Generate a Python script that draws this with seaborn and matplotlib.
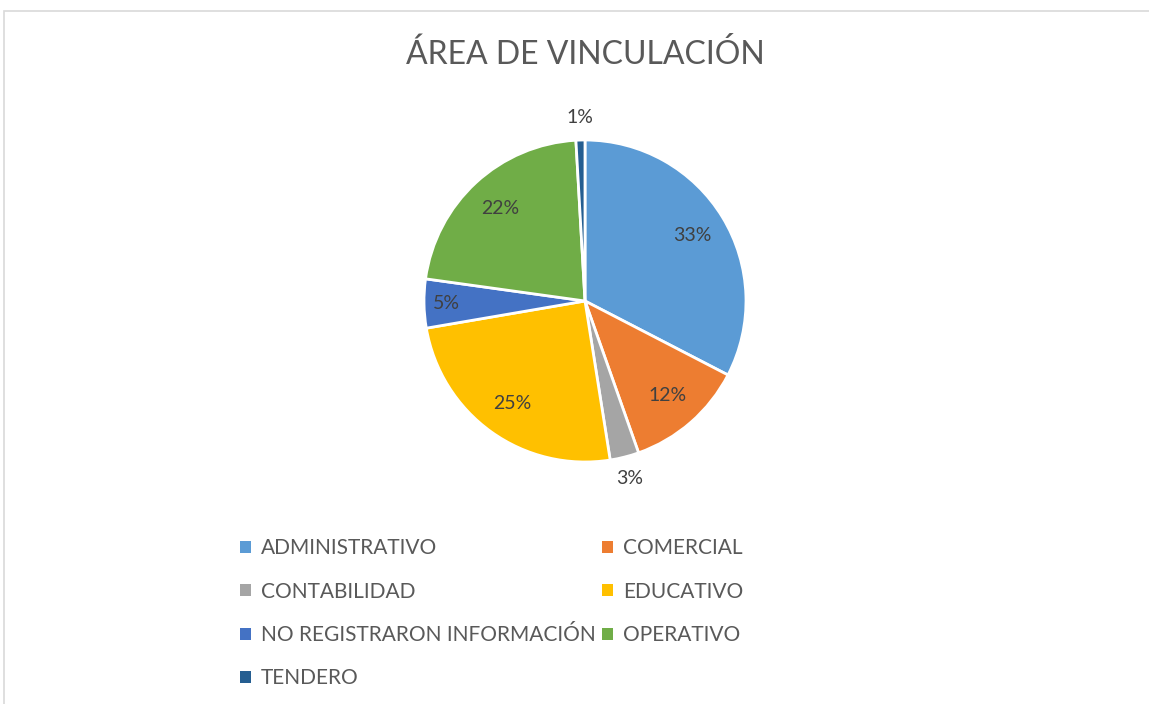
import numpy as np
import matplotlib
matplotlib.use("Agg")
import matplotlib.pyplot as plt
import matplotlib.patches as mpatches
import seaborn as sns

# ── Data ─────────────────────────────────────────────────────
categories = ["ADMINISTRATIVO", "COMERCIAL", "CONTABILIDAD", "EDUCATIVO",
              "NO REGISTRARON INFORMACIÓN", "OPERATIVO", "TENDERO"]
shares = [32.6, 12.0, 2.9, 24.8, 4.9, 21.9, 0.9]
pct_labels = ["33%", "12%", "3%", "25%", "5%", "22%", "1%"]
colors = ["#5B9BD5", "#ED7D31", "#A5A5A5", "#FFC000", "#4472C4", "#70AD47", "#255E91"]
title = "ÁREA DE VINCULACIÓN"

# ── Style ────────────────────────────────────────────────────
sns.set_style("white")
plt.rcParams["font.family"] = ["Lato", "DejaVu Sans"]
TEXT_COLOR = "#595959"
LABEL_COLOR = "#404040"

W, H = 1149, 704
fig = plt.figure(figsize=(W / 100, H / 100), dpi=100)

# chart frame (light gray border, open to the right/bottom)
fig.patches.append(mpatches.Rectangle((4 / W, -0.05), 1.1, (H - 11) / H + 0.05,
                                      transform=fig.transFigure, fill=False,
                                      edgecolor="#D9D9D9", lw=1.2))

cx, cy, r = 585, 301, 161
ax = fig.add_axes([(cx - r) / W, (H - cy - r) / H, 2 * r / W, 2 * r / H])
wedges, _ = ax.pie(shares, colors=colors, startangle=90, counterclock=False,
                   wedgeprops=dict(edgecolor="white", linewidth=2))
ax.set_xlim(-1, 1)
ax.set_ylim(-1, 1)
for w in wedges:
    w.set_clip_on(False)

# data labels: inside for big slices, outside for small ones
for w, lab, val in zip(wedges, pct_labels, shares):
    ang = np.deg2rad((w.theta1 + w.theta2) / 2)
    rad = 0.78 if val >= 10 else (0.86 if val >= 4 else 1.14)
    ax.text(rad * np.cos(ang), rad * np.sin(ang), lab, ha="center", va="center",
            fontsize=14, color=LABEL_COLOR)

fig.text(cx / W, 1 - 55 / H, title, ha="center", va="center",
         fontsize=23, color=TEXT_COLOR)

# legend filled row by row, like Excel
order = [0, 2, 4, 6, 1, 3, 5]
leg = fig.legend([wedges[i] for i in order], [categories[i] for i in order],
                 loc="upper left", bbox_to_anchor=(232 / W, 1 - 530 / H),
                 ncol=2, frameon=False, fontsize=15, labelcolor=TEXT_COLOR,
                 handlelength=0.5, handleheight=0.5, handletextpad=0.5,
                 columnspacing=0.3, labelspacing=1.12, borderaxespad=0)
for h in leg.legend_handles:
    h.set_edgecolor("none")

fig.savefig("out.png", dpi=100, facecolor="white")
